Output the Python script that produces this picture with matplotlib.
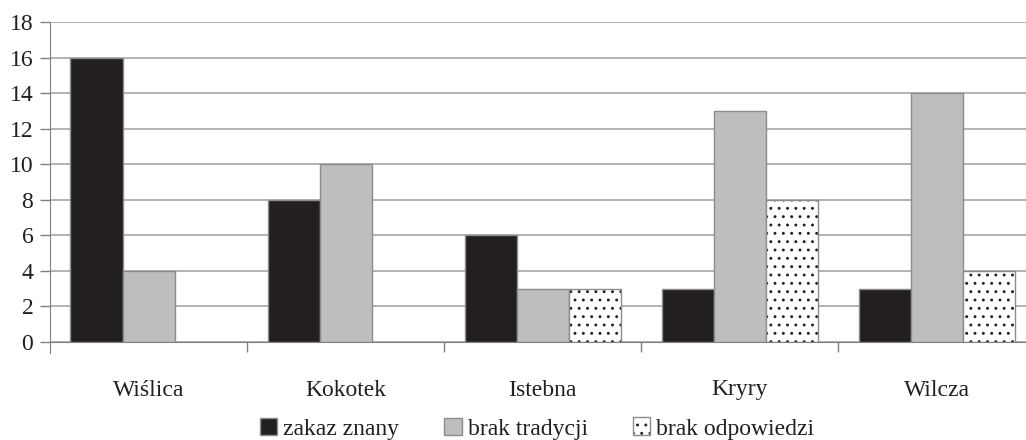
import numpy as np
import matplotlib.pyplot as plt
from matplotlib.patches import Patch, Rectangle

plt.rcParams['font.family'] = ['Liberation Serif', 'DejaVu Serif']
plt.rcParams['hatch.linewidth'] = 0.9

# Data
places = ['Wiślica', 'Kokotek', 'Istebna', 'Kryry', 'Wilcza']
zakaz_znany = [16, 8, 6, 3, 3]
brak_tradycji = [4, 10, 3, 13, 14]
brak_odpowiedzi = [0, 0, 3, 8, 4]

series_names = ['zakaz znany', 'brak tradycji', 'brak odpowiedzi']

edge = '#8c8c8c'
dark = '#231f20'
grey = '#bcbec0'


class DottedHandler:
    # dark dots with a grey outline, like the bars
    def legend_artist(self, legend, orig_handle, fontsize, handlebox):
        x0, y0 = handlebox.xdescent, handlebox.ydescent
        w, h = handlebox.width, handlebox.height
        tr = handlebox.get_transform()
        fill = Rectangle((x0, y0), w, h, facecolor='white', edgecolor=dark,
                         linewidth=0, hatch='..', transform=tr)
        outline = Rectangle((x0, y0), w, h, fill=False, edgecolor=edge,
                            linewidth=1, transform=tr)
        handlebox.add_artist(fill)
        handlebox.add_artist(outline)
        return outline


fig = plt.figure(figsize=(10.26, 4.4), dpi=100)
ax = fig.add_axes([50/1026, 1 - 342/440, 976/1026, 320/440])

x = np.arange(len(places))
w = 0.264

ax.bar(x - w, zakaz_znany, w, color=dark, edgecolor=edge, linewidth=1, zorder=3)
ax.bar(x, brak_tradycji, w, color=grey, edgecolor=edge, linewidth=1, zorder=3)
vals = np.array(brak_odpowiedzi)
shown = vals > 0
ax.bar(x[shown] + w, vals[shown], w, color='white', edgecolor=dark, linewidth=0,
       hatch='..', zorder=3)
ax.bar(x[shown] + w, vals[shown], w, fill=False, edgecolor=edge, linewidth=1, zorder=4)

ax.set_ylim(0, 18)
ax.set_yticks(range(0, 19, 2))
ax.set_xlim(-0.5, 4.454)

ax.yaxis.grid(True, color='#a6a6a6', linewidth=1.2, zorder=0)
ax.set_axisbelow(True)

for s in ['top', 'right']:
    ax.spines[s].set_visible(False)
ax.spines['left'].set_color('#808080')
ax.spines['bottom'].set_color('#808080')
ax.spines['left'].set_bounds(-0.6, 18)

# Category labels centred, tick marks on group boundaries
ax.set_xticks(x)
ax.set_xticklabels(places)
ax.tick_params(axis='x', length=0, pad=27, labelsize=17, colors=dark)
ax.set_xticks(np.arange(0.5, 4.5, 1), minor=True)
ax.tick_params(axis='x', which='minor', length=7, color='#808080', width=1)
ax.tick_params(axis='y', length=7, color='#808080', width=1, labelsize=17,
               colors=dark, pad=5)

dots = Patch(facecolor='white')
handles = [
    Patch(facecolor=dark, edgecolor=edge),
    Patch(facecolor=grey, edgecolor=edge),
    dots,
]
fig.legend(handles=handles, labels=series_names, loc='center',
           bbox_to_anchor=(537/1026, 1 - 429/440),
           handler_map={dots: DottedHandler()},
           ncol=3, frameon=False, fontsize=17, handlelength=0.75, handleheight=0.75,
           handletextpad=0.25, columnspacing=1.9, labelcolor=dark)

fig.savefig('out.png', dpi=100)
